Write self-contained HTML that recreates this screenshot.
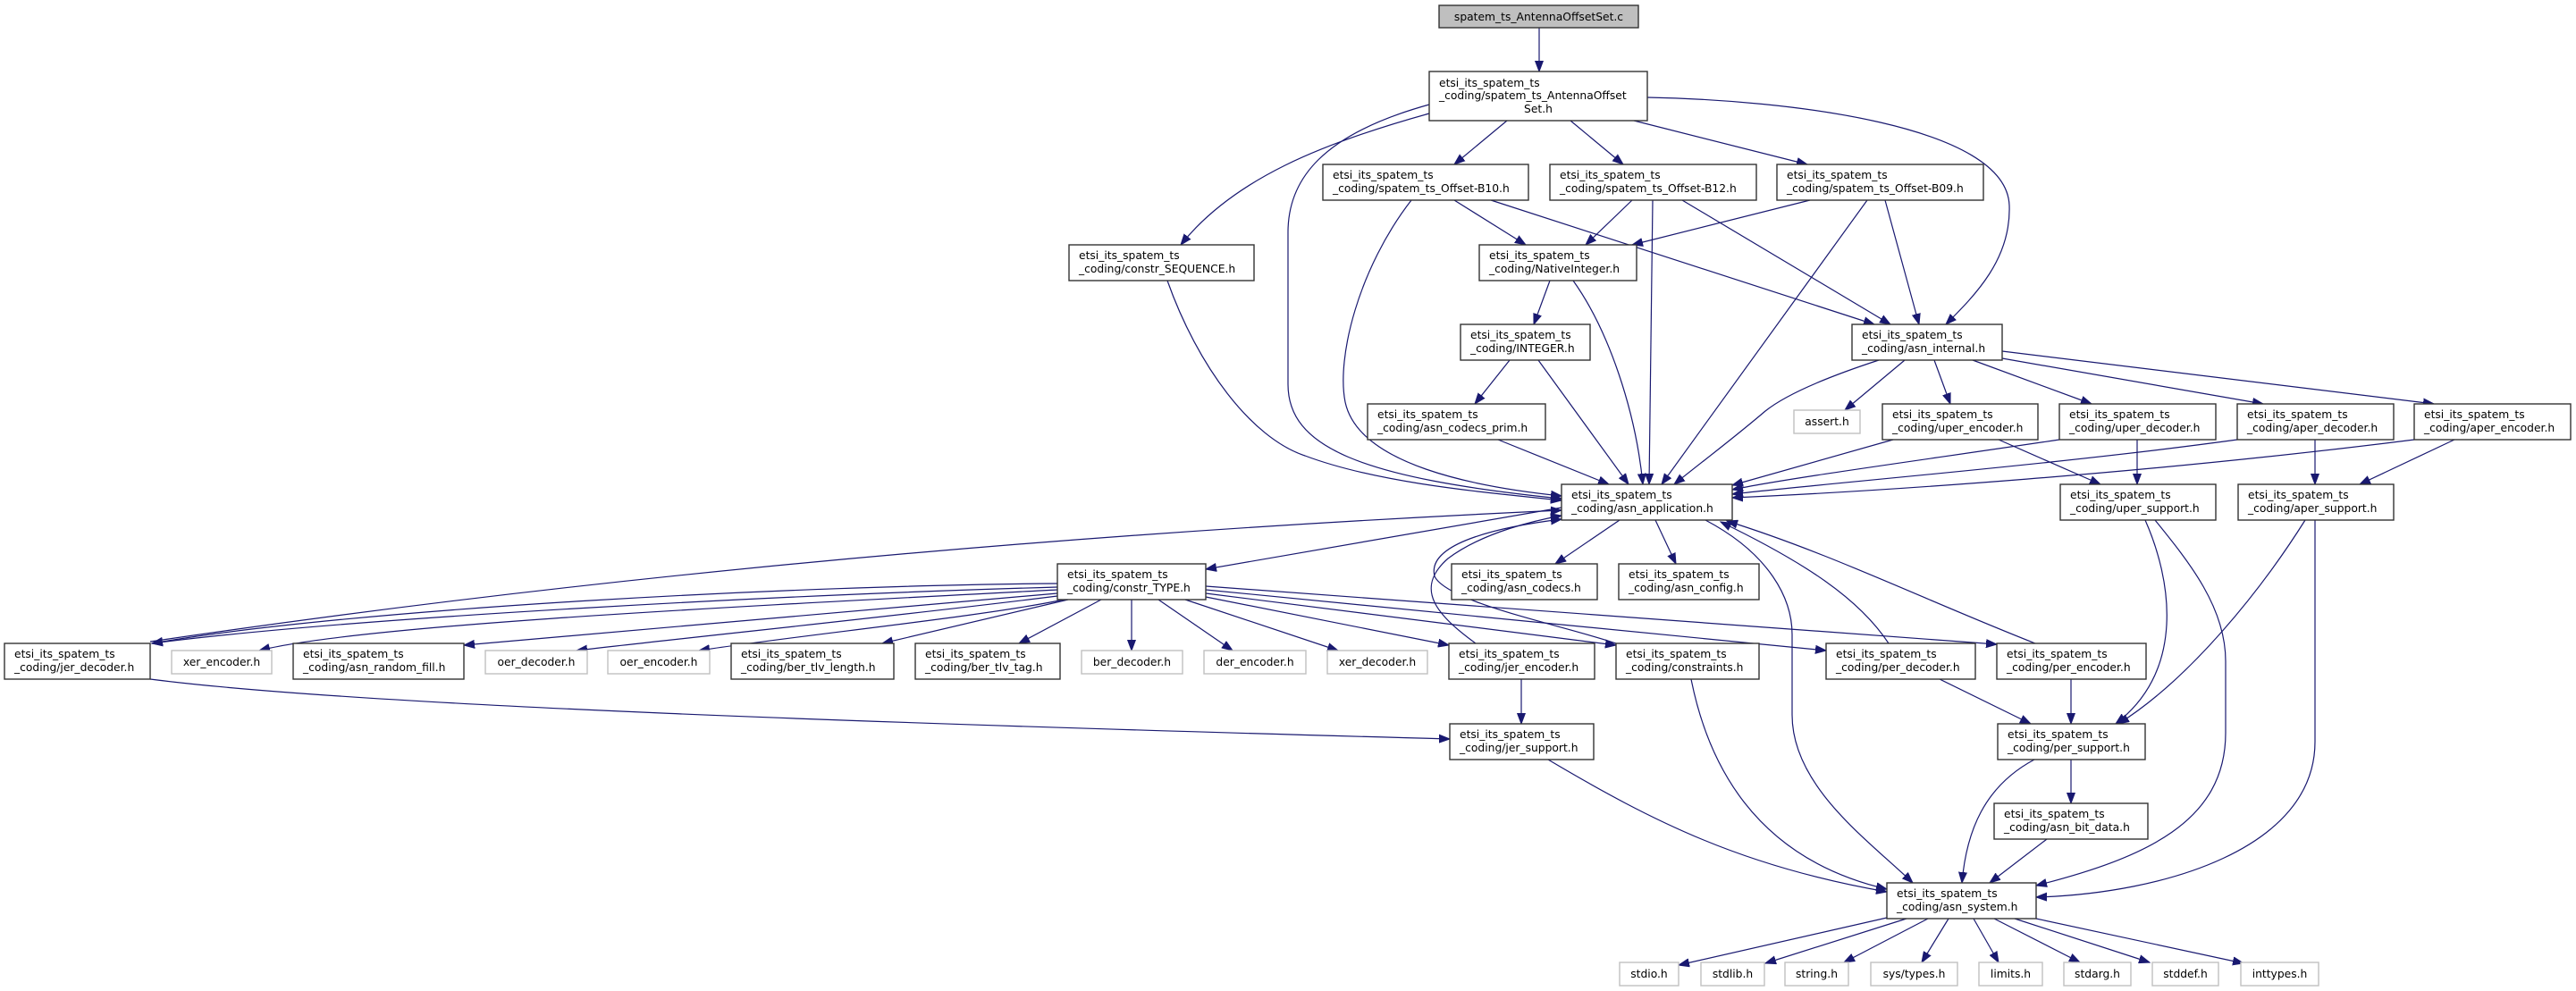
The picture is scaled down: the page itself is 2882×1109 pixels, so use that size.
<!DOCTYPE html>
<html><head><meta charset="utf-8"><style>
html,body{margin:0;padding:0;background:#fff;}
svg{display:block;}
text{font-family:"DejaVu Sans","Liberation Sans",sans-serif;font-size:12.3px;fill:#000;}
.n{fill:#fff;stroke:#333;stroke-width:1.4;}
.g{fill:#fff;stroke:#c0c0c0;stroke-width:1.4;}
.e{fill:none;stroke:#191970;stroke-width:1.2;marker-end:url(#a);}
</style></head><body>
<svg width="2882" height="1109" viewBox="0 0 2882 1109" xmlns="http://www.w3.org/2000/svg">
<defs><marker id="a" markerUnits="userSpaceOnUse" markerWidth="14" markerHeight="10" refX="12" refY="5" orient="auto"><path d="M0,0.5 L12,5 L0,9.5 Z" fill="#191970" stroke="#191970"/></marker></defs>
<g>
<path class="e" d="M1722,31 L1722,80"/>
<path class="e" d="M1599,127 C1480,160 1380,200 1321,274"/>
<path class="e" d="M1599,117 C1480,150 1441,200 1441,260 L1441,430 C1441,500 1520,535 1747,558"/>
<path class="e" d="M1686,135 L1627,184"/>
<path class="e" d="M1757,135 L1816,184"/>
<path class="e" d="M1828,135 L2022,184"/>
<path class="e" d="M1843,109 C2000,112 2245,140 2248,230 C2250,290 2210,330 2177,363"/>
<path class="e" d="M1627,224 L1707,274"/>
<path class="e" d="M1668,224 L2097,363"/>
<path class="e" d="M1579,224 C1520,300 1495,400 1505,450 C1520,520 1650,545 1747,555"/>
<path class="e" d="M1826,224 L1774,274"/>
<path class="e" d="M1849,224 L1845,542"/>
<path class="e" d="M1882,224 L2115,363"/>
<path class="e" d="M2025,224 L1826,274"/>
<path class="e" d="M2109,224 L2147,363"/>
<path class="e" d="M2089,224 L1859,542"/>
<path class="e" d="M1734,314 L1716,363"/>
<path class="e" d="M1760,314 C1800,370 1830,460 1838,542"/>
<path class="e" d="M1689,403 L1650,452"/>
<path class="e" d="M1721,403 L1822,542"/>
<path class="e" d="M1676,492 L1800,542"/>
<path class="e" d="M1306,314 C1340,410 1400,490 1460,510 C1540,540 1650,550 1747,560"/>
<path class="e" d="M2102,403 C2050,420 2000,440 1975,460 C1940,490 1900,520 1873,542"/>
<path class="e" d="M2131,403 L2064,459"/>
<path class="e" d="M2164,403 L2182,452"/>
<path class="e" d="M2207,403 L2340,452"/>
<path class="e" d="M2240,401 L2532,452"/>
<path class="e" d="M2240,393 L2723,452"/>
<path class="e" d="M2118,492 L1938,543"/>
<path class="e" d="M2304,492 C2150,515 2000,535 1938,548"/>
<path class="e" d="M2503,492 C2300,520 2050,540 1938,553"/>
<path class="e" d="M2701,492 C2400,530 2100,550 1938,557"/>
<path class="e" d="M2236,492 L2350,542"/>
<path class="e" d="M2391,492 L2391,542"/>
<path class="e" d="M2590,492 L2590,542"/>
<path class="e" d="M2746,492 L2640,542"/>
<path class="e" d="M1747,568 L1349,637"/>
<path class="e" d="M1812,582 L1740,631"/>
<path class="e" d="M1852,582 L1875,631"/>
<path class="e" d="M1908,582 C1980,620 2005,670 2005,710 L2005,800 C2005,880 2090,940 2140,988"/>
<path class="e" d="M168,718 Q900,610 1747,571"/>
<path class="e" d="M1183,653 C900,655 400,680 170,720"/>
<path class="e" d="M1183,657 C900,665 400,690 170,720"/>
<path class="e" d="M1183,660 C800,680 400,700 290,728"/>
<path class="e" d="M1183,664 C900,690 700,705 519,722"/>
<path class="e" d="M1183,667 C1000,690 800,710 645,728"/>
<path class="e" d="M1190,671 C1100,690 900,710 782,728"/>
<path class="e" d="M1195,671 L987,720"/>
<path class="e" d="M1232,671 L1140,720"/>
<path class="e" d="M1266,671 L1266,728"/>
<path class="e" d="M1296,671 L1379,728"/>
<path class="e" d="M1326,671 L1497,728"/>
<path class="e" d="M1349,668 L1621,722"/>
<path class="e" d="M1349,664 L1808,722"/>
<path class="e" d="M1349,660 L2043,728"/>
<path class="e" d="M1349,656 L2234,721"/>
<path class="e" d="M1651,720 C1610,690 1580,660 1620,625 C1660,595 1720,582 1747,577"/>
<path class="e" d="M1808,720 C1750,700 1620,675 1605,645 C1595,605 1690,588 1747,581"/>
<path class="e" d="M1702,760 L1702,810"/>
<path class="e" d="M168,760 C400,790 1000,810 1622,827"/>
<path class="e" d="M1892,760 C1910,850 1960,960 2111,995"/>
<path class="e" d="M1732,850 C1850,920 1950,970 2111,998"/>
<path class="e" d="M2113,720 C2080,670 2020,630 1925,584"/>
<path class="e" d="M2277,720 C2150,670 2050,620 1932,583"/>
<path class="e" d="M2170,760 L2272,810"/>
<path class="e" d="M2317,760 L2317,810"/>
<path class="e" d="M2400,582 C2430,650 2445,750 2367,810"/>
<path class="e" d="M2579,582 C2530,660 2450,760 2370,810"/>
<path class="e" d="M2411,582 C2450,630 2490,680 2490,740 L2490,820 C2490,920 2400,960 2278,991"/>
<path class="e" d="M2590,582 L2590,830 C2590,950 2420,1000 2278,1004"/>
<path class="e" d="M2317,850 L2317,899"/>
<path class="e" d="M2276,850 C2220,880 2200,930 2195,988"/>
<path class="e" d="M2290,939 L2226,988"/>
<path class="e" d="M2111,1027 L1878,1080"/>
<path class="e" d="M2133,1028 L1975,1078"/>
<path class="e" d="M2157,1028 L2063,1077"/>
<path class="e" d="M2180,1028 L2150,1077"/>
<path class="e" d="M2208,1028 L2236,1077"/>
<path class="e" d="M2231,1028 L2327,1077"/>
<path class="e" d="M2254,1028 L2405,1077"/>
<path class="e" d="M2278,1028 L2510,1078"/>
</g>
<g>
<rect x="1610" y="6" width="223" height="25" fill="#bfbfbf" stroke="#333" stroke-width="1.4"/>
<text x="1721.5" y="23" text-anchor="middle">spatem_ts_AntennaOffsetSet.c</text>

<rect class="n" x="1599" y="80" width="244" height="55"/>
<text x="1610" y="97">etsi_its_spatem_ts</text><text x="1610" y="111">_coding/spatem_ts_AntennaOffset</text><text x="1721" y="126" text-anchor="middle">Set.h</text>

<rect class="n" x="1196" y="274" width="207" height="40"/><text x="1207" y="290">etsi_its_spatem_ts</text><text x="1207" y="305">_coding/constr_SEQUENCE.h</text>
<rect class="n" x="1480" y="184" width="230" height="40"/><text x="1491" y="200">etsi_its_spatem_ts</text><text x="1491" y="215">_coding/spatem_ts_Offset-B10.h</text>
<rect class="n" x="1734" y="184" width="231" height="40"/><text x="1745" y="200">etsi_its_spatem_ts</text><text x="1745" y="215">_coding/spatem_ts_Offset-B12.h</text>
<rect class="n" x="1988" y="184" width="231" height="40"/><text x="1999" y="200">etsi_its_spatem_ts</text><text x="1999" y="215">_coding/spatem_ts_Offset-B09.h</text>
<rect class="n" x="1655" y="274" width="176" height="40"/><text x="1666" y="290">etsi_its_spatem_ts</text><text x="1666" y="305">_coding/NativeInteger.h</text>
<rect class="n" x="1634" y="363" width="145" height="40"/><text x="1645" y="379">etsi_its_spatem_ts</text><text x="1645" y="394">_coding/INTEGER.h</text>
<rect class="n" x="1530" y="452" width="199" height="40"/><text x="1541" y="468">etsi_its_spatem_ts</text><text x="1541" y="483">_coding/asn_codecs_prim.h</text>
<rect class="n" x="2072" y="363" width="168" height="40"/><text x="2083" y="379">etsi_its_spatem_ts</text><text x="2083" y="394">_coding/asn_internal.h</text>
<rect class="g" x="2007" y="459" width="74" height="26"/><text x="2044" y="476" text-anchor="middle">assert.h</text>
<rect class="n" x="2106" y="452" width="174" height="40"/><text x="2117" y="468">etsi_its_spatem_ts</text><text x="2117" y="483">_coding/uper_encoder.h</text>
<rect class="n" x="2304" y="452" width="175" height="40"/><text x="2315" y="468">etsi_its_spatem_ts</text><text x="2315" y="483">_coding/uper_decoder.h</text>
<rect class="n" x="2503" y="452" width="175" height="40"/><text x="2514" y="468">etsi_its_spatem_ts</text><text x="2514" y="483">_coding/aper_decoder.h</text>
<rect class="n" x="2701" y="452" width="175" height="40"/><text x="2712" y="468">etsi_its_spatem_ts</text><text x="2712" y="483">_coding/aper_encoder.h</text>
<rect class="n" x="1747" y="542" width="191" height="40"/><text x="1758" y="558">etsi_its_spatem_ts</text><text x="1758" y="573">_coding/asn_application.h</text>
<rect class="n" x="2305" y="542" width="174" height="40"/><text x="2316" y="558">etsi_its_spatem_ts</text><text x="2316" y="573">_coding/uper_support.h</text>
<rect class="n" x="2504" y="542" width="174" height="40"/><text x="2515" y="558">etsi_its_spatem_ts</text><text x="2515" y="573">_coding/aper_support.h</text>
<rect class="n" x="1183" y="631" width="166" height="40"/><text x="1194" y="647">etsi_its_spatem_ts</text><text x="1194" y="662">_coding/constr_TYPE.h</text>
<rect class="n" x="1624" y="631" width="163" height="40"/><text x="1635" y="647">etsi_its_spatem_ts</text><text x="1635" y="662">_coding/asn_codecs.h</text>
<rect class="n" x="1811" y="631" width="157" height="40"/><text x="1822" y="647">etsi_its_spatem_ts</text><text x="1822" y="662">_coding/asn_config.h</text>
<rect class="n" x="5" y="720" width="163" height="40"/><text x="16" y="736">etsi_its_spatem_ts</text><text x="16" y="751">_coding/jer_decoder.h</text>
<rect class="g" x="192" y="728" width="112" height="26"/><text x="248" y="745" text-anchor="middle">xer_encoder.h</text>
<rect class="n" x="328" y="720" width="191" height="40"/><text x="339" y="736">etsi_its_spatem_ts</text><text x="339" y="751">_coding/asn_random_fill.h</text>
<rect class="g" x="543" y="728" width="114" height="26"/><text x="600" y="745" text-anchor="middle">oer_decoder.h</text>
<rect class="g" x="680" y="728" width="114" height="26"/><text x="737" y="745" text-anchor="middle">oer_encoder.h</text>
<rect class="n" x="818" y="720" width="182" height="40"/><text x="829" y="736">etsi_its_spatem_ts</text><text x="829" y="751">_coding/ber_tlv_length.h</text>
<rect class="n" x="1024" y="720" width="162" height="40"/><text x="1035" y="736">etsi_its_spatem_ts</text><text x="1035" y="751">_coding/ber_tlv_tag.h</text>
<rect class="g" x="1210" y="728" width="113" height="26"/><text x="1266.5" y="745" text-anchor="middle">ber_decoder.h</text>
<rect class="g" x="1347" y="728" width="114" height="26"/><text x="1404" y="745" text-anchor="middle">der_encoder.h</text>
<rect class="g" x="1485" y="728" width="112" height="26"/><text x="1541" y="745" text-anchor="middle">xer_decoder.h</text>
<rect class="n" x="1621" y="720" width="163" height="40"/><text x="1632" y="736">etsi_its_spatem_ts</text><text x="1632" y="751">_coding/jer_encoder.h</text>
<rect class="n" x="1808" y="720" width="160" height="40"/><text x="1819" y="736">etsi_its_spatem_ts</text><text x="1819" y="751">_coding/constraints.h</text>
<rect class="n" x="2043" y="720" width="167" height="40"/><text x="2054" y="736">etsi_its_spatem_ts</text><text x="2054" y="751">_coding/per_decoder.h</text>
<rect class="n" x="2234" y="720" width="167" height="40"/><text x="2245" y="736">etsi_its_spatem_ts</text><text x="2245" y="751">_coding/per_encoder.h</text>
<rect class="n" x="1622" y="810" width="161" height="40"/><text x="1633" y="826">etsi_its_spatem_ts</text><text x="1633" y="841">_coding/jer_support.h</text>
<rect class="n" x="2235" y="810" width="165" height="40"/><text x="2246" y="826">etsi_its_spatem_ts</text><text x="2246" y="841">_coding/per_support.h</text>
<rect class="n" x="2231" y="899" width="172" height="40"/><text x="2242" y="915">etsi_its_spatem_ts</text><text x="2242" y="930">_coding/asn_bit_data.h</text>
<rect class="n" x="2111" y="988" width="167" height="40"/><text x="2122" y="1004">etsi_its_spatem_ts</text><text x="2122" y="1019">_coding/asn_system.h</text>
<rect class="g" x="1812" y="1077" width="66" height="26"/><text x="1845" y="1094" text-anchor="middle">stdio.h</text>
<rect class="g" x="1903" y="1077" width="71" height="26"/><text x="1938.5" y="1094" text-anchor="middle">stdlib.h</text>
<rect class="g" x="1997" y="1077" width="71" height="26"/><text x="2032.5" y="1094" text-anchor="middle">string.h</text>
<rect class="g" x="2093" y="1077" width="97" height="26"/><text x="2141.5" y="1094" text-anchor="middle">sys/types.h</text>
<rect class="g" x="2214" y="1077" width="71" height="26"/><text x="2249.5" y="1094" text-anchor="middle">limits.h</text>
<rect class="g" x="2309" y="1077" width="75" height="26"/><text x="2346.5" y="1094" text-anchor="middle">stdarg.h</text>
<rect class="g" x="2408" y="1077" width="74" height="26"/><text x="2445" y="1094" text-anchor="middle">stddef.h</text>
<rect class="g" x="2507" y="1077" width="87" height="26"/><text x="2550.5" y="1094" text-anchor="middle">inttypes.h</text>
</g>
</svg>
</body></html>
